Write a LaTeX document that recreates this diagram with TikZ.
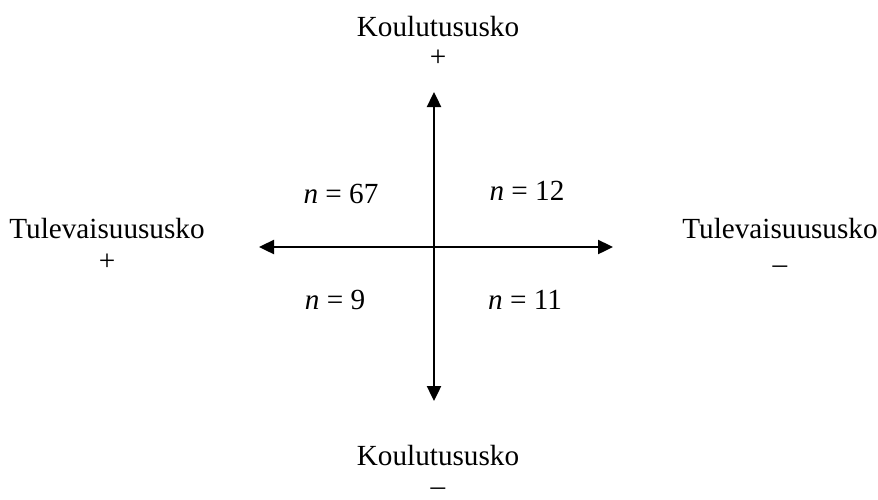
\documentclass[tikz,border=0pt]{standalone}
\usepackage{fontspec}
\setmainfont{Liberation Serif}
\usetikzlibrary{arrows.meta}
\tikzset{
  akseli/.style={line width=1.2pt, {Triangle[length=7.5pt,width=7pt]}-{Triangle[length=7.5pt,width=7pt]}},
  nimi/.style={anchor=base, inner sep=0pt},
  luku/.style={anchor=base, inner sep=0pt}
}
\begin{document}
\begin{tikzpicture}[x=0.5pt, y=-0.5pt]
    \fontsize{14.6}{17.5}\selectfont
    \useasboundingbox (0,0) rectangle (878,499);

    % Akselien päätepisteet
    \coordinate (ylos) at (434,92);
    \coordinate (alas) at (434,401);
    \coordinate (vasen) at (259,247);
    \coordinate (oikea) at (613,247);

    % Akselit
    \draw[akseli] (alas) -- (ylos);
    \draw[akseli] (vasen) -- (oikea);

    % Akselien nimet
    \node[nimi] (koulu1) at (438,36) {Koulutususko};
    \node[nimi] (plus1) at (438,66) {+};
    \node[nimi] (koulu2) at (438,465) {Koulutususko};
    \node[nimi] (miinus1) at (438,495) {\textendash};
    \node[nimi] (tulev1) at (107,238) {Tulevaisuususko};
    \node[nimi] (plus2) at (107,270) {+};
    \node[nimi] (tulev2) at (780,238) {Tulevaisuususko};
    \node[nimi] (miinus2) at (780,273) {\textendash};

    % Lohkojen koot
    \node[luku] (n67) at (341,203) {\textit{n} = 67};
    \node[luku] (n12) at (527,200) {\textit{n} = 12};
    \node[luku] (n9) at (335,309) {\textit{n} = 9};
    \node[luku] (n11) at (525,309) {\textit{n} = 11};
\end{tikzpicture}
\end{document}
